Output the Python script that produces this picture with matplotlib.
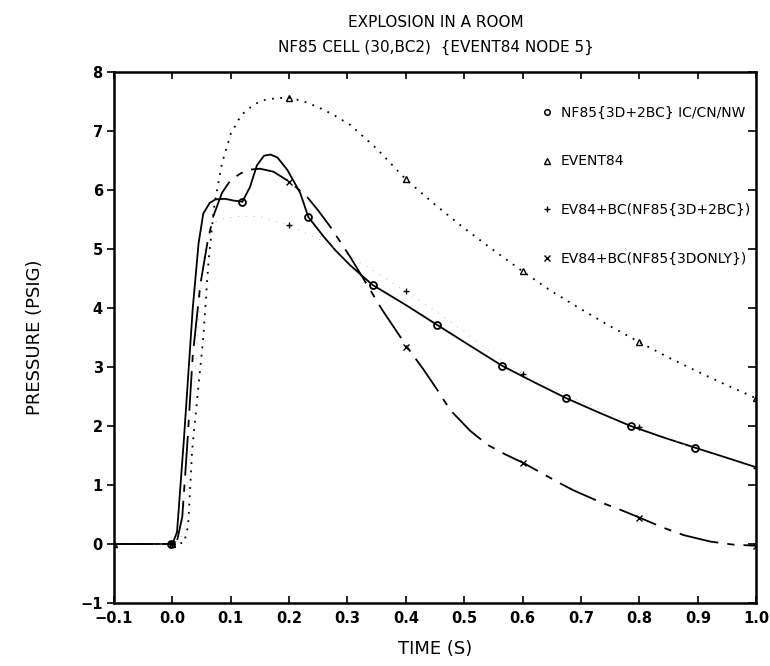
import numpy as np
import matplotlib.pyplot as plt

plt.rcParams['font.family'] = ['DejaVu Sans']

# NF85{3D+2BC} IC/CN/NW  (solid, circles)
t_nf85 = [-0.1, 0.0, 0.008, 0.02, 0.035, 0.045, 0.053, 0.064, 0.074, 0.09, 0.105, 0.12,
          0.133, 0.145, 0.157, 0.168, 0.18, 0.197, 0.219, 0.233, 0.26, 0.28, 0.305,
          0.343, 0.40, 0.454, 0.51, 0.565, 0.62, 0.675, 0.73, 0.785, 0.84, 0.896, 0.95, 1.0]
p_nf85 = [0.0, 0.0, 0.2, 1.8, 4.0, 5.1, 5.6, 5.78, 5.84, 5.85, 5.82, 5.8,
          6.05, 6.42, 6.58, 6.6, 6.55, 6.34, 5.95, 5.54, 5.2, 4.97, 4.72,
          4.39, 4.05, 3.71, 3.36, 3.02, 2.74, 2.47, 2.23, 2.0, 1.81, 1.63, 1.46, 1.3]
tm_nf85 = [-0.003, 0.12, 0.233, 0.343, 0.454, 0.565, 0.675, 0.785, 0.896]
pm_nf85 = [0.0, 5.8, 5.54, 4.39, 3.71, 3.02, 2.47, 2.0, 1.63]

# EVENT84 (dotted, triangles)
t_ev84 = [-0.1, 0.0, 0.02, 0.027, 0.034, 0.043, 0.053, 0.062, 0.072, 0.085, 0.1, 0.118,
          0.14, 0.156, 0.18, 0.202, 0.225, 0.248, 0.275, 0.305, 0.35, 0.4, 0.45, 0.5,
          0.55, 0.6, 0.65, 0.7, 0.75, 0.8, 0.85, 0.9, 0.95, 1.0]
p_ev84 = [0.0, 0.0, 0.02, 0.3, 1.6, 2.5, 3.5, 4.8, 5.75, 6.45, 6.95, 7.27,
          7.45, 7.52, 7.56, 7.56, 7.5, 7.41, 7.28, 7.1, 6.7, 6.18, 5.75, 5.35,
          4.98, 4.62, 4.28, 3.98, 3.69, 3.42, 3.16, 2.92, 2.69, 2.47]
tm_ev84 = [-0.1, 0.0, 0.2, 0.4, 0.6, 0.8, 1.0]
pm_ev84 = [0.0, 0.0, 7.56, 6.18, 4.62, 3.42, 2.47]

# EV84+BC(NF85{3D+2BC}) (faint dotted, plus)
t_bc2 = [-0.1, 0.0, 0.015, 0.03, 0.045, 0.055, 0.068, 0.08, 0.11, 0.15, 0.2, 0.25,
         0.3, 0.35, 0.4, 0.45, 0.5, 0.55, 0.6, 0.7, 0.8, 0.9, 1.0]
p_bc2 = [0.0, 0.0, 0.1, 1.5, 3.8, 5.0, 5.4, 5.5, 5.55, 5.55, 5.4, 5.17,
         4.9, 4.6, 4.28, 3.95, 3.6, 3.2, 2.88, 2.42, 1.99, 1.6, 1.28]
tm_bc2 = [0.0, 0.2, 0.4, 0.6, 0.8, 1.0]
pm_bc2 = [0.0, 5.4, 4.28, 2.88, 1.99, 1.28]

# EV84+BC(NF85{3DONLY}) (long dash, x)
t_bc3 = [-0.1, 0.0, 0.008, 0.017, 0.025, 0.035, 0.048, 0.06, 0.07, 0.085, 0.1, 0.117,
         0.128, 0.15, 0.173, 0.202, 0.231, 0.25, 0.271, 0.305, 0.327, 0.36, 0.402,
         0.43, 0.454, 0.476, 0.51, 0.54, 0.57, 0.602, 0.66, 0.687, 0.733, 0.77, 0.802,
         0.84, 0.876, 0.922, 0.96, 1.0]
p_bc3 = [0.0, 0.0, 0.05, 0.46, 1.6, 3.2, 4.4, 5.1, 5.55, 5.95, 6.17, 6.28,
         6.34, 6.36, 6.31, 6.13, 5.88, 5.65, 5.37, 4.86, 4.5, 3.96, 3.34,
         2.96, 2.61, 2.27, 1.92, 1.68, 1.52, 1.37, 1.05, 0.91, 0.71, 0.57, 0.44,
         0.28, 0.15, 0.04, -0.01, -0.03]
tm_bc3 = [0.0, 0.2, 0.4, 0.6, 0.8, 1.0]
pm_bc3 = [0.0, 6.13, 3.34, 1.37, 0.44, -0.03]

labels = ['NF85{3D+2BC} IC/CN/NW', 'EVENT84', 'EV84+BC(NF85{3D+2BC})', 'EV84+BC(NF85{3DONLY})']
xticks = np.round(np.arange(-0.1, 1.01, 0.1), 1)
yticks = np.arange(-1, 9)

fig = plt.figure(figsize=(7.7, 6.66), dpi=100)
ax = fig.add_axes([0.148, 0.0946, 0.834, 0.7974])

ax.plot(t_nf85, p_nf85, color='k', lw=1.3)
ax.plot(t_ev84, p_ev84, color='k', lw=1.3, linestyle=(0, (1.0, 3.6)))
ax.plot(t_bc2, p_bc2, color='0.72', lw=0.7, linestyle=(0, (1.0, 7.0)))
ax.plot(t_bc3, p_bc3, color='k', lw=1.3, linestyle=(0, (22, 5, 4, 5)))

ax.plot(tm_nf85, pm_nf85, 'o', ms=5, mfc='none', mec='k', mew=1.3)
ax.plot(tm_ev84, pm_ev84, '^', ms=4.5, mfc='none', mec='k', mew=1.0)
ax.plot(tm_bc2, pm_bc2, '+', ms=5, mec='k', mew=1.0)
ax.plot(tm_bc3, pm_bc3, 'x', ms=5, mec='k', mew=1.0)

h = [plt.Line2D([], [], ls='none', marker='o', ms=4, mfc='none', mec='k', mew=1.1),
     plt.Line2D([], [], ls='none', marker='^', ms=4, mfc='none', mec='k', mew=1.0),
     plt.Line2D([], [], ls='none', marker='+', ms=4, mec='k', mew=1.0),
     plt.Line2D([], [], ls='none', marker='x', ms=4, mec='k', mew=1.0)]
ax.legend(h, labels, loc='upper right', bbox_to_anchor=(1.012, 0.96), frameon=False,
          fontsize=10, labelspacing=2.5, handlelength=0.6, handletextpad=0.7)

ax.set_xlim(-0.1, 1.0)
ax.set_ylim(-1, 8)
ax.set_xticks(xticks)
ax.set_xticklabels(['{:.1f}'.format(v).replace('-', '\u2212') for v in xticks], fontweight='bold')
ax.set_yticks(yticks)
ax.set_yticklabels([str(v).replace('-', '\u2212') for v in yticks], fontweight='bold')
ax.tick_params(axis='both', labelsize=10.5, width=1.2, length=5)
ax.tick_params(axis='x', direction='in', top=True, pad=6)
ax.tick_params(axis='y', direction='out', pad=3)
ax.tick_params(axis='y', which='both', right=False)
sec = ax.secondary_yaxis('right')
sec.set_yticks(yticks)
sec.tick_params(direction='in', length=6, width=1.2, labelright=False)
sec.spines['right'].set_visible(False)
for s in ax.spines.values():
    s.set_linewidth(1.8)

ax.set_xlabel('TIME (S)', fontsize=13, labelpad=10)
ax.set_ylabel('PRESSURE (PSIG)', fontsize=13, labelpad=26)
fig.text(0.566, 0.978, 'EXPLOSION IN A ROOM', ha='center', va='top', fontsize=11)
fig.text(0.566, 0.94, 'NF85 CELL (30,BC2)  {EVENT84 NODE 5}', ha='center', va='top', fontsize=11)

fig.savefig('out.png', dpi=100)
